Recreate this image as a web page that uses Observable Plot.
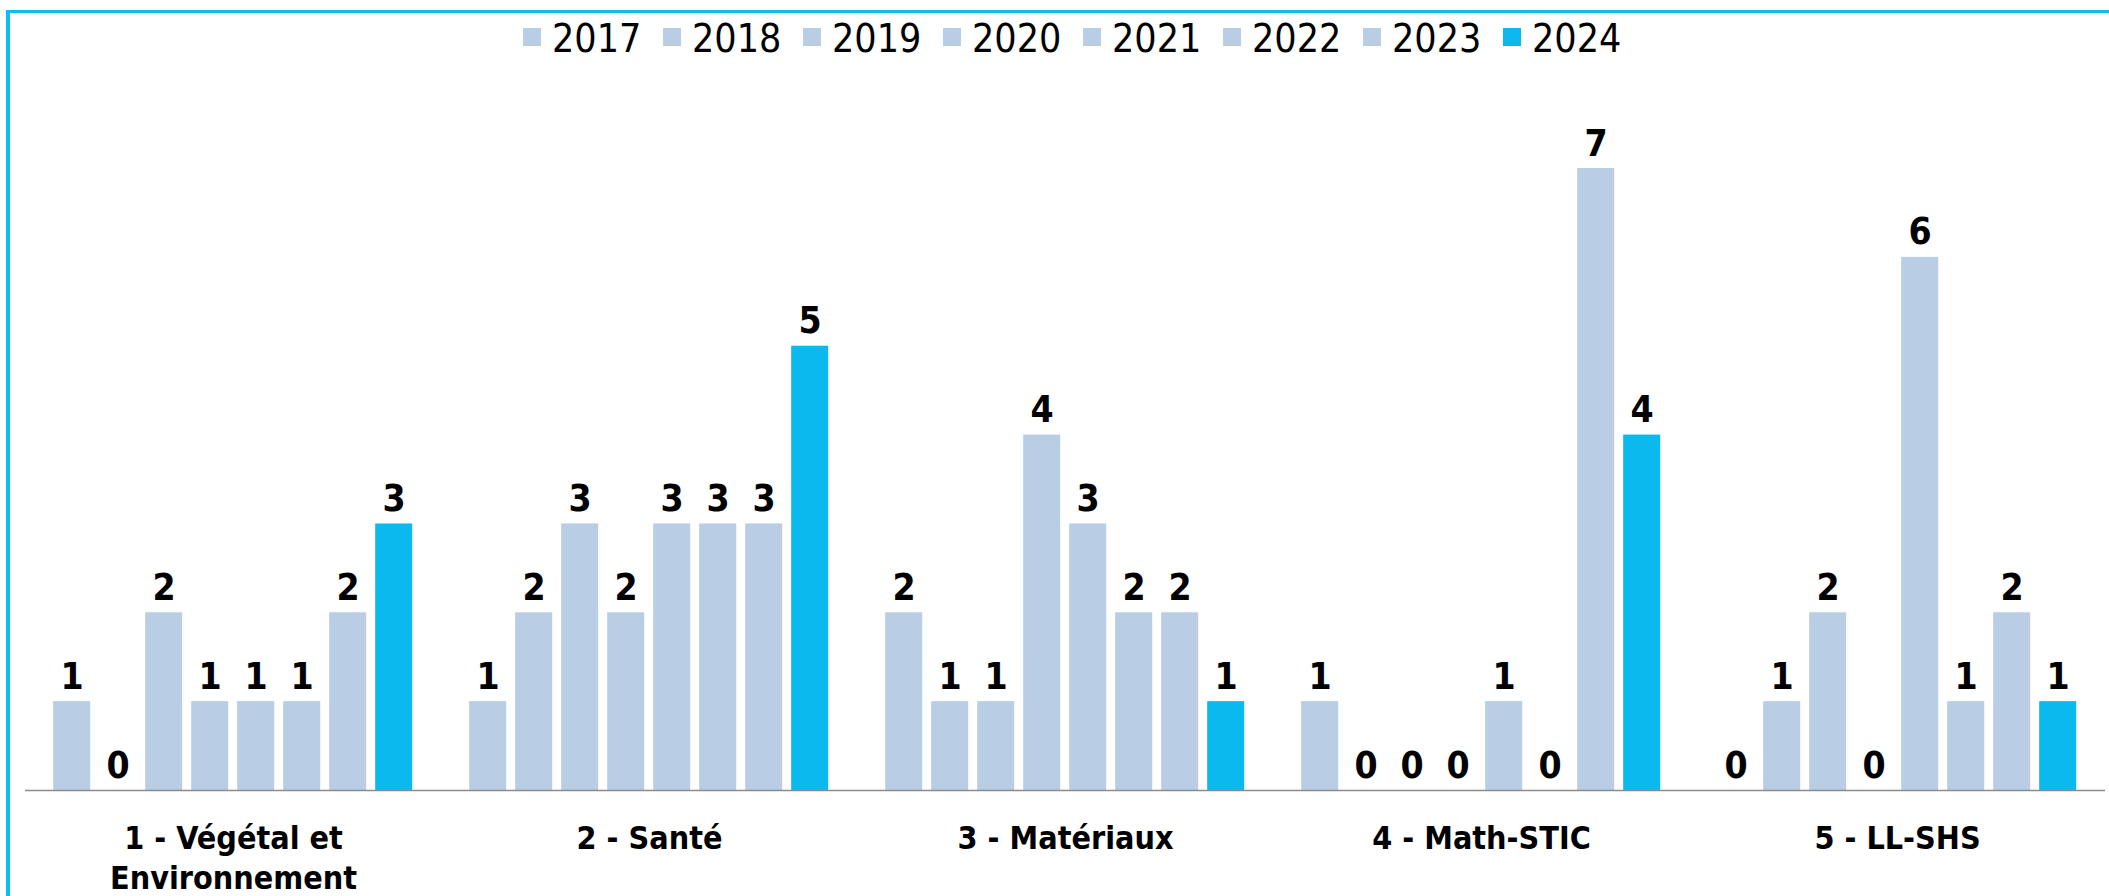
<!DOCTYPE html>
<html>
<head>
<meta charset="utf-8">
<script src="https://cdn.jsdelivr.net/npm/d3@7"></script>
<script src="https://cdn.jsdelivr.net/npm/@observablehq/plot@0.6"></script>
<style>
  html, body { margin: 0; padding: 0; background: #ffffff; }
  #wrap { position: relative; width: 2109px; height: 896px; overflow: hidden; background: #ffffff; }
  #frame { position: absolute; left: 6px; top: 10px; width: 2300px; height: 1100px;
           border-left: 4px solid #0BBEEF; border-top: 3px solid #0BBEEF; pointer-events: none; }
  #legend { position: absolute; left: 0; top: 0; }
  #chart { position: absolute; left: 0; top: 70px; }
</style>
</head>
<body>
<div id="wrap">
  <div id="legend"></div>
  <div id="chart"></div>
  <div id="frame"></div>
</div>
<script>
// ---- data ----
const years = ["2017", "2018", "2019", "2020", "2021", "2022", "2023", "2024"];
const categories = ["1 - Végétal et Environnement", "2 - Santé", "3 - Matériaux", "4 - Math-STIC", "5 - LL-SHS"];
const categoryTickLabels = ["1 - Végétal et\nEnvironnement", "2 - Santé", "3 - Matériaux", "4 - Math-STIC", "5 - LL-SHS"];
const vegetal   = [1, 0, 2, 1, 1, 1, 2, 3];
const sante     = [1, 2, 3, 2, 3, 3, 3, 5];
const materiaux = [2, 1, 1, 4, 3, 2, 2, 1];
const mathStic  = [1, 0, 0, 0, 1, 0, 7, 4];
const llShs     = [0, 1, 2, 0, 6, 1, 2, 1];
const yearColors = ["#B9CDE5", "#B9CDE5", "#B9CDE5", "#B9CDE5", "#B9CDE5", "#B9CDE5", "#B9CDE5", "#0BB9EE"];

const seriesByCategory = [vegetal, sante, materiaux, mathStic, llShs];
const data = [];
categories.forEach((c, ci) => {
  years.forEach((y, yi) => {
    data.push({category: c, year: y, value: seriesByCategory[ci][yi]});
  });
});

const boldFont = "'DejaVu Sans Condensed', 'DejaVu Sans', sans-serif";
const legendFont = "'Liberation Sans Narrow', 'DejaVu Sans Condensed', 'DejaVu Sans', sans-serif";

const chart = Plot.plot({
  width: 2109,
  height: 826,
  marginLeft: 22.8,
  marginRight: 1.7,
  marginTop: 98,
  marginBottom: 106,
  style: {fontFamily: boldFont, fontStretch: "condensed", background: "white", color: "black"},
  fx: {domain: categories, padding: 0, label: null},
  x: {domain: years, paddingInner: 0.204, paddingOuter: 0.585, axis: null},
  y: {domain: [0, 7], axis: null},
  color: {domain: years, range: yearColors},
  marks: [
    Plot.barY(data, {fx: "category", x: "year", y: "value", fill: "year"}),
    Plot.ruleY([0], {stroke: "#8C8C8C", strokeWidth: 1.5}),
    Plot.text(data, {
      fx: "category", x: "year", y: "value",
      text: d => String(d.value),
      lineAnchor: "bottom", dy: -13,
      fontSize: 37, fontWeight: "bold", fill: "black"
    }),
    Plot.axisFx({
      anchor: "bottom", tickSize: 0, tickPadding: 30,
      fontSize: 32, fontWeight: "bold", lineHeight: 1.26, fill: "black",
      label: null,
      tickFormat: d => categoryTickLabels[categories.indexOf(d)]
    })
  ]
});
document.getElementById("chart").appendChild(chart);

// ---- legend (above the chart SVG) ----
const color = chart.scale("color");
const legend = d3.select("#legend").append("svg")
  .attr("width", 2109).attr("height", 70)
  .style("font-family", legendFont);
const items = legend.selectAll("g").data(color.domain).join("g")
  .attr("transform", (d, i) => `translate(${523 + 140 * i},0)`);
items.append("rect")
  .attr("x", 0).attr("y", 28).attr("width", 18).attr("height", 18)
  .attr("fill", (d, i) => color.range[i]);
items.append("text")
  .attr("x", 29).attr("y", 52)
  .attr("font-size", 39)
  .attr("fill", "black")
  .text(d => d);
</script>
</body>
</html>
